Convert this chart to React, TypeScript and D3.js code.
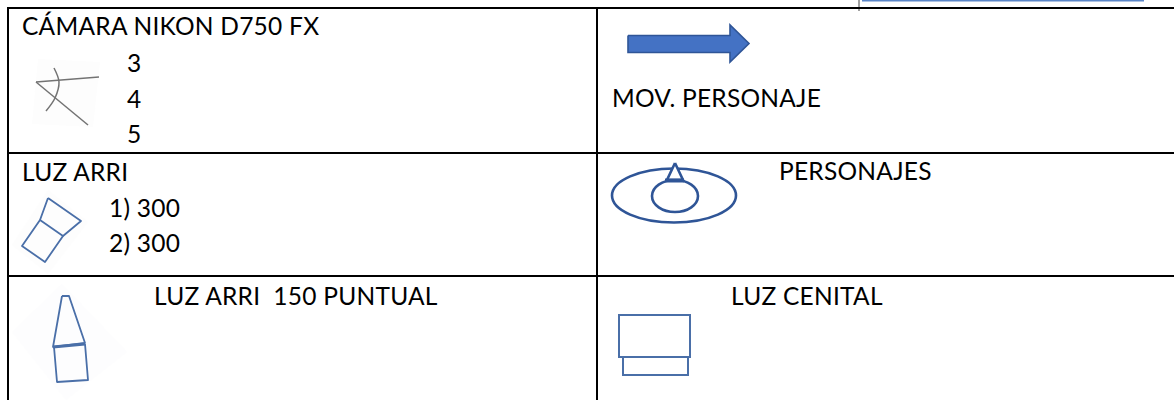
import React from 'react';
import * as d3 from 'd3';

const W = 1174;
const H = 400;

// table content
const leftTitles = ['CÁMARA NIKON D750 FX', 'LUZ ARRI', 'LUZ ARRI  150 PUNTUAL'];
const rightTitles = ['MOV. PERSONAJE', 'PERSONAJES', 'LUZ CENITAL'];
const cameraLenses = ['3', '4', '5'];
const arriLights = ['1) 300', '2) 300'];

// layout of the table
const rowLines = [8, 153, 276];
const colLines = [8, 597];
const FONT = "Lato, Carlito, 'Open Sans', sans-serif";
const BLUE = '#4a6fa8';
const DARK_BLUE = '#2f5597';

type Pt = [number, number];
const line = d3.line<Pt>();
const curve = d3.line<Pt>().curve(d3.curveCatmullRom);

const Outline = ({ pts, sw = 1.8, color = BLUE }: { pts: Pt[]; sw?: number; color?: string }) => (
  <path d={line(pts) ?? ''} fill="none" stroke={color} strokeWidth={sw} strokeLinejoin="round" />
);

function CameraIcon() {
  return (
    <g>
      <path d="M38 59 L100 62 L93 127 L32 124 Z" fill="#fdfdfd" />
      <Outline pts={[[36, 82], [99, 77]]} color="#737373" sw={1.5} />
      <Outline pts={[[36, 82], [88, 125]]} color="#737373" sw={1.5} />
      <path d={curve([[54, 68], [59, 82], [55, 98], [46, 111]]) ?? ''} fill="none" stroke="#737373" strokeWidth={1.5} />
    </g>
  );
}

function ArriIcon() {
  return (
    <g>
      <path d="M48 190 L88 222 L48 274 L12 245 Z" fill="#fdfdfd" />
      <Outline pts={[[48, 198], [81, 221], [63, 236], [40, 220], [48, 198]]} />
      <Outline pts={[[40, 220], [22, 246], [45, 262], [63, 236]]} />
    </g>
  );
}

function SpotIcon() {
  return (
    <g>
      <path d="M62 284 L127 352 L66 400 L12 332 Z" fill="#fdfdfe" />
      <Outline pts={[[62, 296], [69, 296], [85, 343], [53, 347], [62, 296]]} />
      <Outline pts={[[53, 347], [85, 344]]} sw={3} />
      <Outline pts={[[54, 347], [57, 382], [88, 380], [85, 344]]} />
    </g>
  );
}

function ArrowIcon() {
  return (
    <path
      d={line([[628, 35.5], [730, 35.5], [730, 25], [749, 43.5], [730, 62], [730, 52.5], [628, 52.5], [628, 35.5]]) ?? ''}
      fill="#4472c4"
      stroke={DARK_BLUE}
      strokeWidth={1.6}
    />
  );
}

function PersonIcon() {
  return (
    <g>
      <ellipse cx={674} cy={195.5} rx={62} ry={27} fill="none" stroke={DARK_BLUE} strokeWidth={2.6} />
      <ellipse cx={675} cy={196} rx={23} ry={16} fill="none" stroke={DARK_BLUE} strokeWidth={2.6} />
      <path d={line([[675, 163], [667, 180], [683, 180], [675, 163]]) ?? ''} fill="#fff" stroke={DARK_BLUE} strokeWidth={2.6} />
      <Outline pts={[[665, 180.5], [684, 180.5]]} sw={4} color={DARK_BLUE} />
    </g>
  );
}

function CenitalIcon() {
  return (
    <g>
      <rect x={619} y={315} width={71} height={42} fill="none" stroke={BLUE} strokeWidth={2} />
      <rect x={623} y={357} width={65} height={18} fill="none" stroke={BLUE} strokeWidth={2} />
    </g>
  );
}

export default function App() {
  const cameraY = d3.scalePoint<string>().domain(cameraLenses).range([72, 143]);
  const arriY = d3.scalePoint<string>().domain(arriLights).range([217, 252]);

  const text = (s: string, x: number, y: number) => (
    <text
      key={s + x + y}
      x={x}
      y={y}
      fontFamily={FONT}
      fontSize={24.5}
      letterSpacing={0.25}
      fill="#000"
      style={{ whiteSpace: 'pre' }}
    >
      {s}
    </text>
  );

  return (
    <svg
      width={W}
      height={H}
      viewBox={`0 0 ${W} ${H}`}
      style={{ position: 'fixed', left: 0, top: 0, background: '#fff' }}
    >
      {/* bit of the other text box cut off at the top of the page */}
      <line x1={859} x2={859} y1={0} y2={11} stroke="#444" strokeWidth={1} />
      <line x1={862} x2={1144} y1={0.5} y2={0.5} stroke="#5b86c8" strokeWidth={2} />

      {rowLines.map(y => (
        <line key={y} x1={7} x2={W} y1={y} y2={y} stroke="#000" strokeWidth={2} />
      ))}
      {colLines.map(x => (
        <line key={x} x1={x} x2={x} y1={7} y2={H} stroke="#000" strokeWidth={2} />
      ))}

      <CameraIcon />
      <ArriIcon />
      <SpotIcon />
      <ArrowIcon />
      <PersonIcon />
      <CenitalIcon />

      {text(leftTitles[0], 22, 35)}
      {text(leftTitles[1], 22, 181)}
      {text(leftTitles[2], 154, 305)}
      {text(rightTitles[0], 612, 107)}
      {text(rightTitles[1], 779, 180)}
      {text(rightTitles[2], 731, 305)}
      {cameraLenses.map(s => text(s, 127, cameraY(s)!))}
      {arriLights.map(s => text(s, 109, arriY(s)!))}
    </svg>
  );
}
